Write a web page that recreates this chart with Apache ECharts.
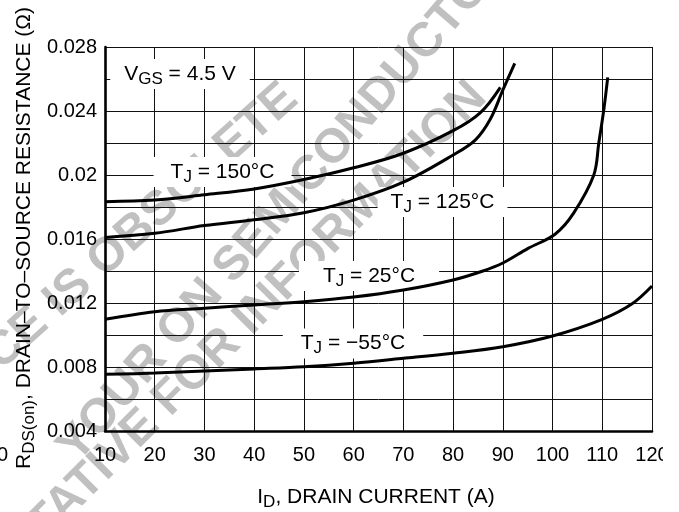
<!DOCTYPE html>
<html>
<head>
<meta charset="utf-8">
<script src="https://cdn.jsdelivr.net/npm/echarts@6/dist/echarts.min.js"></script>
<style>
html,body{margin:0;padding:0;background:#fff;}
#c{width:679px;height:512px;}
</style>
</head>
<body>
<div id="c"></div>
<script>
// ---- data ----
const xTickLabels = ['10','20','30','40','50','60','70','80','90','100','110','120'];
const yTickLabels = ['0.004','0.008','0.012','0.016','0.02','0.024','0.028'];

const tj150 = [[10,0.01833],[20,0.01843],[30,0.01876],[40,0.01913],[50,0.01972],[60,0.02045],[70,0.02136],[80,0.02277],[85.5,0.0239],[89.5,0.02548]];
const tj125 = [[10,0.0161],[20,0.01636],[30,0.01684],[40,0.01720],[50,0.01764],[60,0.01843],[70,0.01955],[80,0.02125],[84.5,0.0222],[87.5,0.0235],[90,0.0253],[92.4,0.02698]];
const tj25 = [[10,0.01098],[20,0.01146],[30,0.01167],[40,0.01188],[50,0.01208],[60,0.01237],[70,0.01281],[80,0.01344],[86,0.01400],[90,0.01450],[95,0.01540],[100.5,0.01630],[104.2,0.0176],[108.3,0.0200],[109.3,0.0220],[110.3,0.02406],[111.1,0.0261]];
const tjm55 = [[10,0.00754],[20,0.00762],[30,0.00775],[40,0.00788],[50,0.00802],[60,0.00824],[70,0.00854],[80,0.00886],[90,0.00927],[100,0.00994],[110,0.01098],[116,0.01195],[120,0.01306]];

// annotation texts and their anchor (data coordinates of box centre)
const annoTexts = ['{n|V}{s|GS}{n| = 4.5 V}','{n|T}{s|J}{n| = 150°C}','{n|T}{s|J}{n| = 125°C}','{n|T}{s|J}{n| = 25°C}','{n|T}{s|J}{n| = −55°C}'];
const annoAnchors = [[25.08,0.02631],[33.63,0.02019],[77.87,0.01831],[63.09,0.01369],[59.87,0.00947]];
const annoHPad = [14,17,13,24,18];

const xTitle = '{n|I}{s|D}{n|, DRAIN CURRENT (A)}';
const yTitle = '{n|R}{s|DS(on)}{n|, DRAIN–TO–SOURCE RESISTANCE (Ω)}';

const watermarkLines = ['THIS DEVICE IS OBSOLETE','YOUR ON SEMICONDUCTOR','REPRESENTATIVE FOR INFORMATION'];

// ---- chart ----
const FONT = '"Liberation Sans", Arial, Helvetica, sans-serif';
const chart = echarts.init(document.getElementById('c'), null, {renderer:'canvas'});

function pick(labels, v){
  for (const s of labels){ if (Math.abs(parseFloat(s) - v) < 1e-7) return s; }
  return '';
}
function mkSeries(name, data){
  return {type:'line', name:name, data:data, symbol:'none', showSymbol:false,
    smooth:0.35, lineStyle:{color:'#000', width:3}, z:5, clip:false, silent:true};
}

const gridLine = {show:true, lineStyle:{color:'#111', width:1}};

chart.setOption({
  animation:false,
  backgroundColor:'#fff',
  grid:{left:105, right:27, top:47, bottom:81},
  xAxis:{type:'value', min:10, max:120, interval:10,
    axisLine:{show:true, onZero:false, lineStyle:{color:'#000', width:2.6}},
    axisTick:{show:false},
    splitLine:gridLine,
    axisLabel:{color:'#000', fontSize:20, fontFamily:FONT, margin:14,
      formatter:function(v){return pick(xTickLabels, v);}}
  },
  yAxis:{type:'value', min:0.004, max:0.028, interval:0.002,
    axisLine:{show:true, onZero:false, lineStyle:{color:'#000', width:2.6}},
    axisTick:{show:false},
    splitLine:gridLine,
    axisLabel:{color:'#000', fontSize:20, fontFamily:FONT, margin:8,
      formatter:function(v){return pick(yTickLabels, v);}}
  },
  series:[mkSeries('TJ = 150°C', tj150), mkSeries('TJ = 125°C', tj125), mkSeries('TJ = 25°C', tj25), mkSeries('TJ = −55°C', tjm55)]
});

const rich = {
  n:{fontSize:21, fontFamily:FONT, lineHeight:26, fill:'#000'},
  s:{fontSize:17, fontFamily:FONT, lineHeight:16, padding:[10,0,0,0], fill:'#000'}
};

const graphics = [];
// watermark
const wmEnds = [[291,92],[504,-47],[479,90]];
const wmRot = [42, 49, 45];
watermarkLines.forEach(function(t,i){
  graphics.push({type:'text', x:wmEnds[i][0], y:wmEnds[i][1], rotation:wmRot[i] * Math.PI / 180, z:-10, silent:true,
    style:{text:t, fill:'#c0c0c0', font:'bold 48px ' + FONT, textAlign:'right', textVerticalAlign:'middle'}});
});
// annotations
annoTexts.forEach(function(t,i){
  const p = chart.convertToPixel({gridIndex:0}, annoAnchors[i]);
  graphics.push({type:'text', x:p[0], y:p[1], z:3, silent:true,
    style:{text:t, rich:rich, textAlign:'center', textVerticalAlign:'middle',
      backgroundColor:'#fff', padding:[2, annoHPad[i], 2, annoHPad[i]]}});
});
// axis titles
graphics.push({type:'text', x:376, y:497, z:3, silent:true,
  style:{text:xTitle, rich:rich, textAlign:'center', textVerticalAlign:'middle'}});
graphics.push({type:'text', x:24, y:238, rotation:Math.PI/2, z:3, silent:true,
  style:{text:yTitle, rich:rich, textAlign:'center', textVerticalAlign:'middle'}});
// cropped fragments at the picture edges
graphics.push({type:'text', x:8, y:455, z:3, silent:true,
  style:{text:'0', fill:'#000', font:'20px ' + FONT, textAlign:'right', textVerticalAlign:'middle'}});
graphics.push({type:'rect', shape:{x:663, y:0, width:16, height:512}, z:20, silent:true, style:{fill:'#fff'}});

chart.setOption({graphic:graphics});
</script>
</body>
</html>
